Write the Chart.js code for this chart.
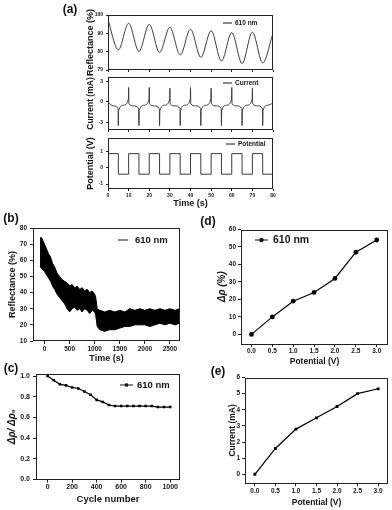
<!DOCTYPE html>
<html lang="en">
<head>
<meta charset="UTF-8">
<title>Reflectance / current figure</title>
<style>
  html, body { margin: 0; padding: 0; background: #fff; }
  #page { position: relative; width: 392px; height: 510px; overflow: hidden; }
  #page canvas { position: absolute; left: 0; top: 0; }
  .tag { position: absolute; font: bold 12px "Liberation Sans", Arial, sans-serif; color: #111;
         transform: translate(-50%, -50%); white-space: nowrap; }
</style>
</head>
<body>
<div id="page">
  <canvas id="a1" width="392" height="510"></canvas>
  <canvas id="a2" width="392" height="510"></canvas>
  <canvas id="a3" width="392" height="510"></canvas>
  <canvas id="b" width="392" height="510"></canvas>
  <canvas id="c" width="392" height="510"></canvas>
  <canvas id="d" width="392" height="510"></canvas>
  <canvas id="e" width="392" height="510"></canvas>
  <div class="tag" style="left:70px;top:9px">(a)</div>
  <div class="tag" style="left:11px;top:218px">(b)</div>
  <div class="tag" style="left:11px;top:368px">(c)</div>
  <div class="tag" style="left:208px;top:221px">(d)</div>
  <div class="tag" style="left:218px;top:371px">(e)</div>
</div>

<script src="https://cdn.jsdelivr.net/npm/chart.js@4"></script>
<script>
// (a) switching trace, 0-80 s
const aReflTime  = [0, 5, 10, 15, 20, 25, 30, 35, 40, 45, 50, 55, 60, 65, 70, 75, 80];
const aReflValue = [97.3, 81, 95.5, 80.2, 94.9, 79.6, 93.3, 78.2, 92.2, 76.9, 91.4, 74.9, 90.4, 73.6, 90.6, 73.9, 90];

const aCurTime = [0, 2.5, 4.9, 5, 5.15, 7.5, 9.9,
  10, 10.15, 12.5, 14.9, 15, 15.15, 17.5, 19.9,
  20, 20.15, 22.5, 24.9, 25, 25.15, 27.5, 29.9,
  30, 30.15, 32.5, 34.9, 35, 35.15, 37.5, 39.9,
  40, 40.15, 42.5, 44.9, 45, 45.15, 47.5, 49.9,
  50, 50.15, 52.5, 54.9, 55, 55.15, 57.5, 59.9,
  60, 60.15, 62.5, 64.9, 65, 65.15, 67.5, 69.9,
  70, 70.15, 72.5, 74.9, 75, 75.15, 77.5, 80];
const aCurValue = [-0.1, -0.6, -1.0, -3.5, -1.3, -0.5, 0.4,
  2.1, -0.3, -0.6, -1.0, -3.5, -1.3, -0.5, 0.4,
  2.1, -0.3, -0.6, -1.0, -3.5, -1.3, -0.5, 0.4,
  2.0, -0.3, -0.6, -1.0, -3.5, -1.3, -0.5, 0.4,
  2.1, -0.3, -0.6, -1.0, -3.5, -1.3, -0.5, 0.4,
  2.0, -0.3, -0.6, -1.0, -3.5, -1.3, -0.5, 0.4,
  2.1, -0.3, -0.6, -1.0, -3.5, -1.3, -0.5, 0.4,
  2.0, -0.3, -0.6, -1.0, -3.5, -1.3, -0.5, -0.2];

const aPotTime  = [0, 5, 10, 15, 20, 25, 30, 35, 40, 45, 50, 55, 60, 65, 70, 75, 80];
const aPotValue = [0.85, -0.4, 0.85, -0.4, 0.85, -0.4, 0.85, -0.4, 0.85, -0.4, 0.85, -0.4, 0.85, -0.4, 0.85, -0.4, -0.4];

const aTimeTicks = [0, 10, 20, 30, 40, 50, 60, 70, 80];
const aReflTicks = [70, 80, 90, 100];
const aCurTicks  = [-3, 0, 3];
const aPotTicks  = [-1, 0, 1];

// (b) long-term cycling, envelope of the oscillation
const bTime  = [-90, -60, -30, 0, 40, 80, 120, 160, 200, 250, 300, 350, 400, 450, 500, 550, 600, 650, 700, 750,
  800, 850, 900, 950, 1000, 1020, 1050, 1100, 1200, 1300, 1400, 1500, 1600, 1700, 1800, 1900, 2000, 2100,
  2200, 2300, 2400, 2500, 2600, 2690];
const bUpper = [74, 74, 72, 70, 67, 64, 62, 58, 56, 52, 50, 48, 47, 46, 44, 45, 43, 44, 42, 43,
  41, 42, 40, 41, 39, 37, 30, 29, 28, 29, 28, 29, 28, 30, 29, 30, 29, 30,
  29, 30, 29, 30, 29, 30];
const bLower = [56, 55, 54, 53, 51, 49, 47, 44, 42, 39, 37, 35, 33, 30, 28, 30, 31, 29, 30, 28,
  30, 29, 27, 29, 28, 26, 19, 17, 16, 17, 17, 18, 19, 19, 20, 20, 20, 19,
  20, 21, 20, 21, 20, 21];
const bTimeTicks = [0, 500, 1000, 1500, 2000, 2500];
const bReflTicks = [10, 20, 30, 40, 50, 60, 70, 80];

// (c) stability
const cCycles = [0, 50, 100, 150, 200, 250, 300, 350, 400, 450, 500, 550, 600, 650, 700, 750, 800, 850, 900, 950, 1000];
const cRatio  = [1.0, 0.96, 0.92, 0.91, 0.89, 0.88, 0.85, 0.82, 0.77, 0.75, 0.72, 0.71, 0.71, 0.71, 0.71, 0.71, 0.71, 0.71, 0.70, 0.70, 0.70];
const cCycleTicks = [0, 200, 400, 600, 800, 1000];
const cRatioTicks = [0, 0.2, 0.4, 0.6, 0.8, 1.0];

// (d), (e) potential dependence
const dePotential = [0, 0.5, 1.0, 1.5, 2.0, 2.5, 3.0];
const dDelta      = [0, 10, 19, 24, 32, 47, 54];
const eCurrent    = [0, 1.6, 2.8, 3.5, 4.2, 5.0, 5.3];
const dePotTicks  = [0, 0.5, 1.0, 1.5, 2.0, 2.5, 3.0];
const dDeltaTicks = [0, 10, 20, 30, 40, 50, 60];
const eCurTicks   = [0, 1, 2, 3, 4, 5, 6];

const FONT = '"Liberation Sans", Arial, sans-serif';
const INK = '#151515';

const pts = (xs, ys) => xs.map((x, i) => ({ x: x, y: ys[i] }));

// frame around the plot area
const boxPlugin = {
  id: 'box',
  afterDraw(chart) {
    const a = chart.chartArea, ctx = chart.ctx;
    ctx.save();
    ctx.strokeStyle = '#222';
    ctx.lineWidth = 1;
    ctx.strokeRect(Math.round(a.left) + 0.5, Math.round(a.top) + 0.5,
      Math.round(a.right - a.left) - 1, Math.round(a.bottom - a.top) - 1);
    ctx.restore();
  }
};

// small in-plot key: line (+ marker) and the dataset label
const keyPlugin = {
  id: 'key',
  afterDraw(chart, args, o) {
    if (!o || o.x === undefined) return;
    const ctx = chart.ctx;
    const text = chart.data.datasets[0].label;
    ctx.save();
    ctx.strokeStyle = INK;
    ctx.fillStyle = INK;
    ctx.lineWidth = o.lw || 1;
    ctx.beginPath();
    ctx.moveTo(o.x, o.y);
    ctx.lineTo(o.x + o.len, o.y);
    ctx.stroke();
    const mx = o.x + o.len / 2;
    if (o.marker === 'circle') {
      ctx.beginPath();
      ctx.arc(mx, o.y, o.r, 0, Math.PI * 2);
      ctx.fill();
    } else if (o.marker === 'rect') {
      ctx.fillRect(mx - o.r, o.y - o.r, o.r * 2, o.r * 2);
    }
    ctx.font = 'bold ' + o.size + 'px ' + FONT;
    ctx.textBaseline = 'middle';
    ctx.fillText(text, o.x + o.len + o.gap, o.y + 0.5);
    ctx.restore();
  }
};

const plain = v => String(v);
const oneDecimal = v => v.toFixed(1);
const useTicks = list => s => { s.ticks = list.map(v => ({ value: v })); };

function yAxis(o) {
  return {
    type: 'linear', position: 'left', min: o.min, max: o.max,
    afterBuildTicks: useTicks(o.list),
    afterFit: s => { s.width = o.w; },
    border: { display: false },
    grid: { drawOnChartArea: false, tickLength: o.tick, color: '#222' },
    ticks: { padding: o.pad, color: INK, callback: o.fmt || plain,
             font: { family: FONT, size: o.size, weight: 'bold' } },
    title: { display: true, text: o.title, color: INK, padding: { top: o.tpad, bottom: 0 },
             font: { family: FONT, size: o.tsize, weight: 'bold', style: o.italic ? 'italic' : 'normal' } }
  };
}

function xAxis(o) {
  return {
    type: 'linear', position: 'bottom', min: o.min, max: o.max,
    afterBuildTicks: useTicks(o.list),
    afterFit: s => { s.height = o.h; },
    border: { display: false },
    grid: { drawOnChartArea: false, tickLength: o.tick, color: '#222' },
    ticks: { display: o.labels !== false, padding: o.pad || 0, maxRotation: 0, autoSkip: false, color: INK,
             callback: o.fmt || plain, font: { family: FONT, size: o.size || 6, weight: 'bold' } },
    title: { display: !!o.title, text: o.title || '', color: INK, padding: { top: 0, bottom: 0 },
             font: { family: FONT, size: o.tsize || 9, weight: 'bold' } }
  };
}

// plot area given in page pixels
function area(L, T, R, B, yw, xh) {
  return { left: L - yw, top: T, right: 392 - R, bottom: 510 - B - xh };
}

function base(layout, scales, key) {
  return {
    responsive: false,
    animation: false,
    events: [],
    layout: { padding: layout },
    scales: scales,
    plugins: { legend: { display: false }, tooltip: { enabled: false }, key: key || {} }
  };
}

// (a) top: reflectance
new Chart(document.getElementById('a1'), {
  type: 'line',
  data: { datasets: [{ label: '610 nm', data: pts(aReflTime, aReflValue), borderColor: '#3a3a3a', borderWidth: 1,
    pointRadius: 0, cubicInterpolationMode: 'monotone' }] },
  options: base(area(108, 15, 273, 70, 28, 2), {
    x: xAxis({ min: 0, max: 80, list: aTimeTicks, h: 2, tick: 2, labels: false }),
    y: yAxis({ min: 70, max: 100, list: aReflTicks, w: 28, tick: 2, pad: 3, size: 5, title: 'Reflectance (%)', tsize: 9, tpad: 5.6 })
  }, { x: 223, y: 23, len: 9, gap: 3, size: 6.5 }),
  plugins: [boxPlugin, keyPlugin]
});

// (a) middle: current
new Chart(document.getElementById('a2'), {
  type: 'line',
  data: { datasets: [{ label: 'Current', data: pts(aCurTime, aCurValue), borderColor: '#3a3a3a', borderWidth: 1,
    pointRadius: 0, cubicInterpolationMode: 'monotone' }] },
  options: base(area(108, 77, 273, 130, 28, 2), {
    x: xAxis({ min: 0, max: 80, list: aTimeTicks, h: 2, tick: 2, labels: false }),
    y: yAxis({ min: -4.15, max: 3.65, list: aCurTicks, w: 28, tick: 2, pad: 3, size: 5, title: 'Current (mA)', tsize: 8.5, tpad: 5.9 })
  }, { x: 223, y: 83, len: 9, gap: 3, size: 6.5 }),
  plugins: [boxPlugin, keyPlugin]
});

// (a) bottom: applied potential
new Chart(document.getElementById('a3'), {
  type: 'line',
  data: { datasets: [{ label: 'Potential', data: pts(aPotTime, aPotValue), borderColor: '#3a3a3a', borderWidth: 1,
    pointRadius: 0, stepped: true }] },
  options: base(area(108, 138, 273, 189, 28, 19.9), {
    x: xAxis({ min: 0, max: 80, list: aTimeTicks, h: 19.9, tick: 2, pad: 2, size: 5, title: 'Time (s)', tsize: 9 }),
    y: yAxis({ min: -1.3, max: 1.8, list: aPotTicks, w: 28, tick: 2, pad: 3, size: 5, title: 'Potential (V)', tsize: 9, tpad: 5.6 })
  }, { x: 226, y: 144, len: 9, gap: 3, size: 6.5 }),
  plugins: [boxPlugin, keyPlugin]
});

// (b)
new Chart(document.getElementById('b'), {
  type: 'line',
  data: { datasets: [
    { label: '610 nm', data: pts(bTime, bUpper), borderColor: '#000', backgroundColor: '#000', borderWidth: 1,
      pointRadius: 0, fill: '+1' },
    { label: 'low', data: pts(bTime, bLower), borderColor: '#000', borderWidth: 1, pointRadius: 0, fill: false }
  ] },
  options: base(area(33, 228, 180, 341, 33, 22.7), {
    x: xAxis({ min: -230, max: 2700, list: bTimeTicks, h: 22.7, tick: 3, pad: 1.4, size: 6.5, title: 'Time (s)', tsize: 9 }),
    y: yAxis({ min: 10, max: 80, list: bReflTicks, w: 33, tick: 3, pad: 3, size: 6.5, title: 'Reflectance (%)', tsize: 9, tpad: 7.1 })
  }, { x: 118, y: 240, len: 10, gap: 7, size: 9.5 }),
  plugins: [boxPlugin, keyPlugin]
});

// (c)
new Chart(document.getElementById('c'), {
  type: 'line',
  data: { datasets: [{ label: '610 nm', data: pts(cCycles, cRatio), borderColor: '#000', backgroundColor: '#000',
    borderWidth: 1.2, pointStyle: 'rect', pointRadius: 1.8, pointBorderWidth: 0 }] },
  options: base(area(36, 374, 180, 479.5, 36, 25.2), {
    x: xAxis({ min: -95, max: 1080, list: cCycleTicks, h: 25.2, tick: 3, pad: 0, size: 7, title: 'Cycle number', tsize: 9.5 }),
    y: yAxis({ min: 0, max: 1.02, list: cRatioTicks, w: 36, tick: 3, pad: 3, size: 7, fmt: oneDecimal,
               title: 'Δρ/ Δρ₀', tsize: 10, tpad: 6.5, italic: true })
  }, { x: 120, y: 385, len: 13, gap: 4, size: 9.5, marker: 'rect', r: 1.6 }),
  plugins: [boxPlugin, keyPlugin]
});

// (d)
new Chart(document.getElementById('d'), {
  type: 'line',
  data: { datasets: [{ label: '610 nm', data: pts(dePotential, dDelta), borderColor: '#000', backgroundColor: '#000',
    borderWidth: 1.2, pointStyle: 'circle', pointRadius: 2.4, pointBorderWidth: 0 }] },
  options: base(area(241, 229.5, 388, 344, 26, 22.8), {
    x: xAxis({ min: -0.25, max: 3.27, list: dePotTicks, h: 22.8, tick: 3, pad: 0.8, size: 6.5, fmt: oneDecimal,
               title: 'Potential (V)', tsize: 8.5 }),
    y: yAxis({ min: -5.5, max: 60, list: dDeltaTicks, w: 26, tick: 3, pad: 2, size: 6.5, title: 'Δρ (%)', tsize: 10, tpad: 1, italic: true })
  }, { x: 255, y: 240, len: 13, gap: 5, size: 10.5, marker: 'circle', r: 2.2 }),
  plugins: [boxPlugin, keyPlugin]
});

// (e)
new Chart(document.getElementById('e'), {
  type: 'line',
  data: { datasets: [{ label: 'current', data: pts(dePotential, eCurrent), borderColor: '#000', backgroundColor: '#000',
    borderWidth: 1.2, pointStyle: 'rect', pointRadius: 2, pointBorderWidth: 0 }] },
  options: base(area(245, 377.5, 388, 483.3, 19, 24.1), {
    x: xAxis({ min: -0.24, max: 3.24, list: dePotTicks, h: 24.1, tick: 3, pad: 0.8, size: 6.5, fmt: oneDecimal,
               title: 'Potential (V)', tsize: 8.5 }),
    y: yAxis({ min: -0.56, max: 6, list: eCurTicks, w: 19, tick: 3, pad: 2, size: 6.5, title: 'Current (mA)', tsize: 8.5, tpad: 1.4 })
  }),
  plugins: [boxPlugin]
});
</script>
</body>
</html>
